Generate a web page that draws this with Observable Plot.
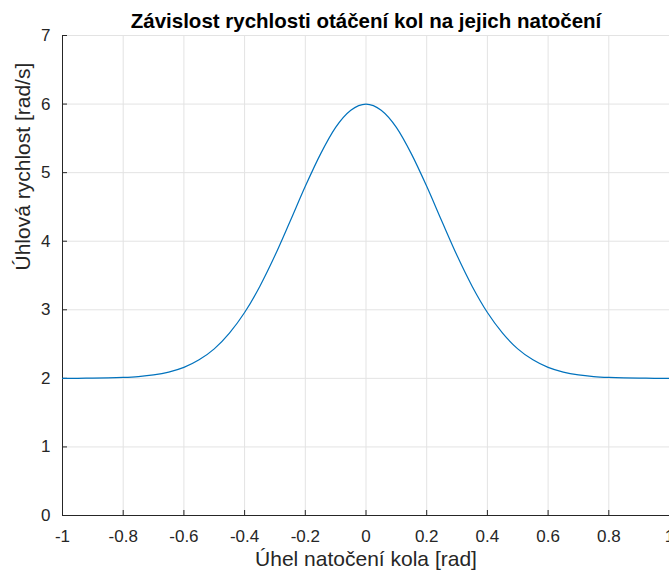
<!DOCTYPE html>
<html>
<head>
<meta charset="utf-8">
<script src="https://cdn.jsdelivr.net/npm/d3@7"></script>
<script src="https://cdn.jsdelivr.net/npm/@observablehq/plot@0.6"></script>
<style>
  html, body { margin: 0; padding: 0; background: #fff; }
  #chart svg { display: block; }
</style>
</head>
<body>
<div id="chart"></div>
<script>
const title = "Závislost rychlosti otáčení kol na jejich natočení";
const xLabel = "Úhel natočení kola [rad]";
const yLabel = "Úhlová rychlost [rad/s]";

const xTicks = [-1, -0.8, -0.6, -0.4, -0.2, 0, 0.2, 0.4, 0.6, 0.8, 1];
const yTicks = [0, 1, 2, 3, 4, 5, 6, 7];

// wheel angle [rad]
const angle = [-1, -0.95, -0.9, -0.85, -0.8, -0.75, -0.7, -0.65, -0.6, -0.55, -0.5,
  -0.45, -0.4, -0.35, -0.3, -0.25, -0.2, -0.15, -0.1, -0.05, 0,
  0.05, 0.1, 0.15, 0.2, 0.25, 0.3, 0.35, 0.4, 0.45, 0.5,
  0.55, 0.6, 0.65, 0.7, 0.75, 0.8, 0.85, 0.9, 0.95, 1];
// angular speed [rad/s]
const speed = [2.000, 2.001, 2.003, 2.006, 2.013, 2.026, 2.050, 2.092, 2.160, 2.270, 2.430,
  2.660, 2.960, 3.340, 3.790, 4.290, 4.800, 5.270, 5.660, 5.910, 6.000,
  5.910, 5.660, 5.270, 4.800, 4.290, 3.790, 3.340, 2.960, 2.660, 2.430,
  2.270, 2.160, 2.092, 2.050, 2.026, 2.013, 2.006, 2.003, 2.001, 2.000];

const data = angle.map((a, i) => ({a, v: speed[i]}));
const axisColor = "#262626";
const gridColor = "#e3e3e3";

const chart = Plot.plot({
  width: 669,
  height: 572,
  marginTop: 35,
  marginBottom: 57,
  marginLeft: 62,
  marginRight: 0,
  style: {
    fontFamily: "'Liberation Sans', Arial, Helvetica, sans-serif",
    fontSize: "17px",
    color: axisColor,
    background: "#fff",
    overflow: "visible"
  },
  x: {domain: [-1, 1]},
  y: {domain: [0, 7]},
  marks: [
    Plot.gridX(xTicks, {stroke: gridColor, strokeOpacity: 1}),
    Plot.gridY(yTicks, {stroke: gridColor, strokeOpacity: 1}),
    Plot.ruleY([0], {stroke: axisColor}),
    Plot.ruleX([-1], {stroke: axisColor}),
    Plot.axisX(xTicks, {tickSize: -5, tickPadding: 19, label: null, tickFormat: d => String(d), stroke: axisColor, fill: axisColor}),
    Plot.axisY(yTicks, {tickSize: -5, tickPadding: 17, label: null, tickFormat: d => String(d), stroke: axisColor, fill: axisColor}),
    Plot.line(data, {x: "a", y: "v", stroke: "#0072BD", strokeWidth: 1.2, curve: "monotone-x"}),
    Plot.text([title], {frameAnchor: "top", dy: -8, fontWeight: "bold", fontSize: 20.5, fill: "#000", lineAnchor: "bottom"}),
    Plot.text([xLabel], {frameAnchor: "bottom", dy: 50, fontSize: 21, fill: axisColor}),
    Plot.text([yLabel], {frameAnchor: "left", dx: -39, dy: -5, rotate: -90, fontSize: 21, fill: axisColor})
  ]
});
document.getElementById("chart").appendChild(chart);
</script>
</body>
</html>
